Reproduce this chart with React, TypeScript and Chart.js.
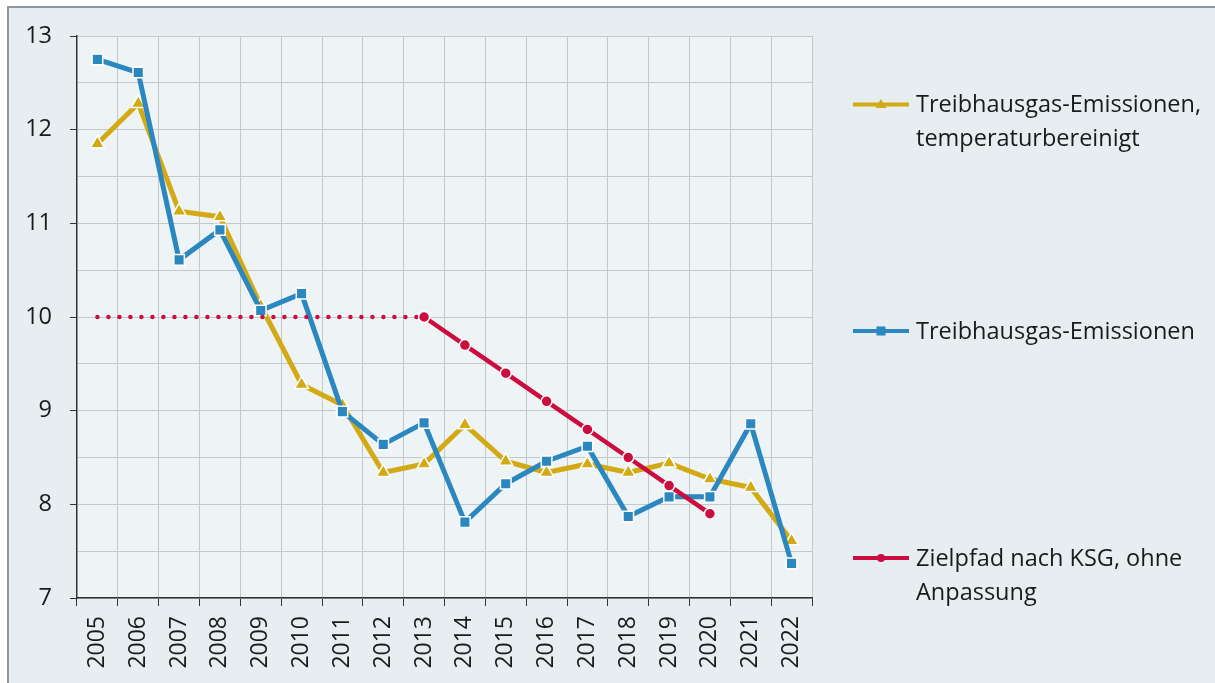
import React, { useEffect, useRef } from "react";
import { Chart, registerables } from "chart.js";

Chart.register(...registerables);

// ---- data ----
const years = [
  "2005", "2006", "2007", "2008", "2009", "2010", "2011", "2012", "2013",
  "2014", "2015", "2016", "2017", "2018", "2019", "2020", "2021", "2022",
];
const ghgTempAdjusted = [
  11.85, 12.28, 11.13, 11.07, 10.12, 9.28, 9.06, 8.34, 8.43,
  8.85, 8.46, 8.34, 8.43, 8.34, 8.44, 8.27, 8.18, 7.61,
];
const ghg = [
  12.75, 12.61, 10.61, 10.93, 10.07, 10.25, 8.99, 8.64, 8.87,
  7.81, 8.22, 8.46, 8.62, 7.87, 8.08, 8.08, 8.86, 7.37,
];
const targetPath = [
  10, 10, 10, 10, 10, 10, 10, 10, 10,
  9.7, 9.4, 9.1, 8.8, 8.5, 8.2, 7.9, null, null,
];
const targetStartIndex = 8; // 2013: dotted before, solid after
const yTickValues = [7, 8, 9, 10, 11, 12, 13];

const seriesLabels = [
  ["Treibhausgas-Emissionen,", "temperaturbereinigt"],
  ["Treibhausgas-Emissionen"],
  ["Zielpfad nach KSG, ohne", "Anpassung"],
];

// ---- styles ----
const YELLOW = "#d3a914";
const BLUE = "#2b87c0";
const RED = "#cc0d3f";
const TEXT = "#1a1a1a";
const FONT = "'Open Sans', 'DejaVu Sans', sans-serif";

const W = 1215;
const H = 683;

const bgPlugin = {
  id: "bgPlugin",
  beforeDraw(chart: any) {
    const { ctx, chartArea } = chart;
    ctx.save();
    ctx.fillStyle = "#ffffff";
    ctx.fillRect(0, 0, W, H);
    ctx.fillStyle = "#e6eef1";
    ctx.fillRect(7, 6, W - 7, H - 6);
    ctx.strokeStyle = "#8e979b";
    ctx.lineWidth = 2;
    ctx.beginPath();
    ctx.moveTo(7, 7);
    ctx.lineTo(W, 7);
    ctx.moveTo(8, 7);
    ctx.lineTo(8, H);
    ctx.stroke();
    ctx.fillStyle = "#eef3f6";
    ctx.fillRect(chartArea.left, chartArea.top, chartArea.right - chartArea.left, chartArea.bottom - chartArea.top);
    ctx.restore();
  },
};

function drawMarker(ctx: CanvasRenderingContext2D, style: string, x: number, y: number, color: string) {
  ctx.fillStyle = color;
  ctx.beginPath();
  if (style === "triangle") {
    ctx.moveTo(x, y - 5.5);
    ctx.lineTo(x + 5.5, y + 3.5);
    ctx.lineTo(x - 5.5, y + 3.5);
    ctx.closePath();
  } else if (style === "rect") {
    ctx.rect(x - 4.5, y - 4.5, 9, 9);
  } else {
    ctx.arc(x, y, 4, 0, Math.PI * 2);
  }
  ctx.fill();
}

const legendPlugin = {
  id: "customLegend",
  afterDraw(chart: any) {
    const ctx: CanvasRenderingContext2D = chart.ctx;
    const colors = [YELLOW, BLUE, RED];
    const styles = ["triangle", "rect", "circle"];
    const ys = [104.5, 331, 558];
    ctx.save();
    seriesLabels.forEach((lines, i) => {
      const y = ys[i];
      ctx.strokeStyle = colors[i];
      ctx.lineWidth = 4;
      ctx.beginPath();
      ctx.moveTo(853, y);
      ctx.lineTo(909, y);
      ctx.stroke();
      drawMarker(ctx, styles[i], 881, y, colors[i]);
      ctx.fillStyle = TEXT;
      ctx.font = `23.5px ${FONT}`;
      ctx.textBaseline = "alphabetic";
      ctx.textAlign = "left";
      lines.forEach((line, j) => {
        ctx.fillText(line, 916, y + 7.5 + j * 34);
      });
    });
    ctx.restore();
  },
};

export default function App() {
  const canvasRef = useRef<HTMLCanvasElement | null>(null);

  useEffect(() => {
    document.body.style.margin = "0";
    const canvas = canvasRef.current;
    if (!canvas) return;
    const dotted = (ctx: any) => ctx.p0DataIndex < targetStartIndex;
    const chart = new Chart(canvas, {
      type: "line",
      data: {
        labels: years,
        datasets: [
          {
            label: seriesLabels[2].join(" "),
            data: targetPath,
            borderColor: RED,
            backgroundColor: RED,
            borderWidth: 4.5,
            pointStyle: "circle",
            pointRadius: years.map((_, i) => (i >= targetStartIndex ? 5.5 : 0)),
            pointBackgroundColor: RED,
            pointBorderColor: "#ffffff",
            pointBorderWidth: 1.5,
            borderJoinStyle: "round",
            order: 0,
            segment: {
              borderDash: (c: any) => (dotted(c) ? [0, 11] : undefined),
              borderCapStyle: (c: any) => (dotted(c) ? "round" : undefined),
              borderWidth: (c: any) => (dotted(c) ? 4.5 : undefined),
            },
          } as any,
          {
            label: seriesLabels[1].join(" "),
            data: ghg,
            borderColor: BLUE,
            backgroundColor: BLUE,
            borderWidth: 5,
            pointStyle: "rect",
            pointRadius: 7.5,
            pointBackgroundColor: BLUE,
            pointBorderColor: "#ffffff",
            pointBorderWidth: 1.5,
            borderJoinStyle: "round",
            order: 1,
          },
          {
            label: seriesLabels[0].join(" "),
            data: ghgTempAdjusted,
            borderColor: YELLOW,
            backgroundColor: YELLOW,
            borderWidth: 5,
            pointStyle: "triangle",
            pointRadius: 8,
            pointBackgroundColor: YELLOW,
            pointBorderColor: "#ffffff",
            pointBorderWidth: 1.5,
            borderJoinStyle: "round",
            order: 2,
          },
        ],
      },
      options: {
        responsive: false,
        animation: false,
        events: [],
        layout: { padding: { left: 0, top: 36, right: W - 812, bottom: 0 } },
        plugins: {
          legend: { display: false },
          tooltip: { enabled: false },
          title: { display: false },
        },
        scales: {
          x: {
            type: "category",
            offset: true,
            grid: {
              offset: true,
              color: "#c3c8cb",
              lineWidth: 1,
              tickLength: 8,
              tickColor: "#333333",
              drawTicks: true,
            },
            border: { color: "#333333", width: 1.5 },
            ticks: {
              minRotation: 90,
              maxRotation: 90,
              autoSkip: false,
              padding: 10,
              color: TEXT,
              font: { family: FONT, size: 23 },
            },
            afterFit: (scale: any) => {
              scale.height = H - 598;
            },
          },
          y: {
            min: 7,
            max: 13,
            ticks: {
              stepSize: 0.5,
              autoSkip: false,
              padding: 18,
              color: TEXT,
              font: { family: FONT, size: 23.5 },
              callback: (v: any) => (yTickValues.includes(Number(v)) ? String(v) : ""),
            },
            grid: {
              color: "#c3c8cb",
              lineWidth: 1,
              tickLength: 7,
              tickColor: (c: any) =>
                c.tick && yTickValues.includes(c.tick.value) ? "#333333" : "rgba(0,0,0,0)",
            },
            border: { color: "#333333", width: 1.5 },
            afterFit: (scale: any) => {
              scale.width = 77;
            },
          },
        },
      },
      plugins: [bgPlugin, legendPlugin],
    });
    return () => chart.destroy();
  }, []);

  return (
    <div style={{ position: "fixed", left: 0, top: 0, width: W, height: H }}>
      <canvas ref={canvasRef} width={W} height={H} style={{ width: W, height: H, display: "block" }} />
    </div>
  );
}
